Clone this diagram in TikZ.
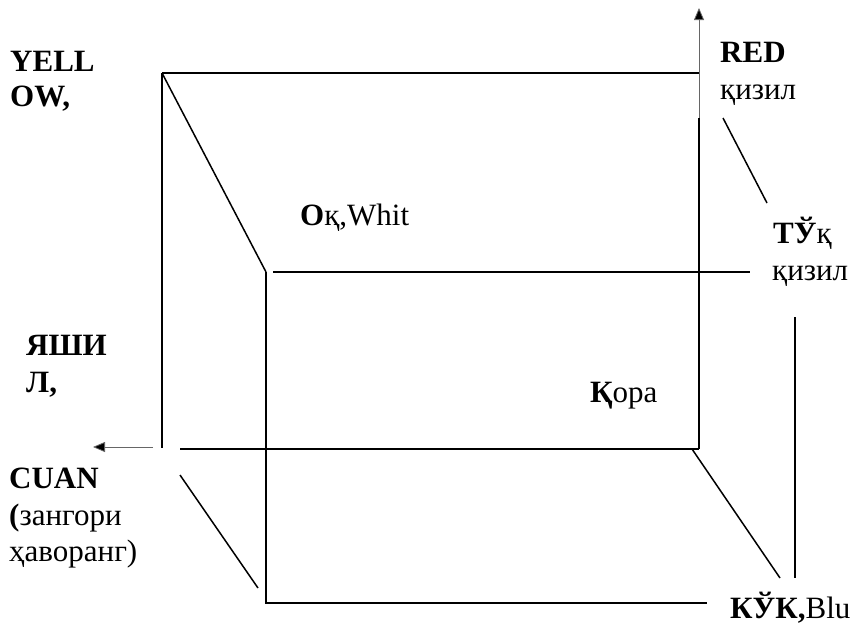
\documentclass[tikz,border=0pt]{standalone}
\usepackage{fontspec}
\setmainfont{Liberation Serif}
\usetikzlibrary{arrows.meta}
\begin{document}
\begin{tikzpicture}[x=1pt,y=-1pt,
  edge/.style={line width=1.5pt,black},
  axis/.style={line width=0.8pt,black!60,-{Triangle[length=12pt,width=10pt,fill=black]}},
  lbl/.style={anchor=base west,inner sep=0pt,font=\fontsize{31}{37}\selectfont}]
\useasboundingbox (0,0) rectangle (854,624);
% back face corners
\coordinate (btl) at (162,73);
\coordinate (btr) at (699,73);
\coordinate (bbl) at (162,448);
\coordinate (brs) at (699,118);
\coordinate (bbr) at (699,449);
\coordinate (bbs) at (180,449);
% front face
\coordinate (ftl) at (266,272);
\coordinate (fts) at (273,272);
\coordinate (fte) at (750,272);
\coordinate (fbl) at (266,603);
\coordinate (fbr) at (707,603);
\coordinate (frt) at (795,317);
\coordinate (frb) at (795,578);
% diagonals
\coordinate (d2a) at (723,118);
\coordinate (d2b) at (767,203);
\coordinate (d3a) at (180,475);
\coordinate (d3b) at (258,588);
\coordinate (d4a) at (692,449);
\coordinate (d4b) at (780,578);
% arrow ends
\coordinate (upT) at (699,8);
\coordinate (lfS) at (153,447);
\coordinate (lfT) at (93,447);

\draw[edge] (btl) -- (btr);
\draw[edge] (btl) -- (bbl);
\draw[edge] (brs) -- (bbr);
\draw[edge] (bbs) -- (bbr);
\draw[axis] (brs) -- (upT);
\draw[axis] (lfS) -- (lfT);

\draw[edge] (fts) -- (fte);
\draw[edge] (ftl) -- (fbl) -- (fbr);
\draw[edge] (frt) -- (frb);

\draw[edge] (btl) -- (ftl);
\draw[edge] (d2a) -- (d2b);
\draw[edge] (d3a) -- (d3b);
\draw[edge] (d4a) -- (d4b);

\node[lbl] (y1) at (10,71) {\textbf{YELL}};
\node[lbl] (y2) at (10,106) {\textbf{OW,}};
\node[lbl] (r1) at (720,62) {\textbf{RED}};
\node[lbl] (r2) at (720,99) {қизил};
\node[lbl] (t1) at (773,243) {\textbf{ТЎ}қ};
\node[lbl] (t2) at (772,280) {қизил};
\node[lbl] (w) at (300,225) {\textbf{О}қ,Whit};
\node[lbl] (g1) at (26,355) {\textbf{ЯШИ}};
\node[lbl] (g2) at (26,392) {\textbf{Л,}};
\node[lbl] (k) at (590,402) {\textbf{Қ}ора};
\node[lbl] (c1) at (9,488) {\textbf{CUAN}};
\node[lbl] (c2) at (9,525) {\textbf{(}зангори};
\node[lbl] (c3) at (9,561) {ҳаворанг)};
\node[lbl] (b) at (730,618) {\textbf{КЎК,}Blu};
\end{tikzpicture}
\end{document}
